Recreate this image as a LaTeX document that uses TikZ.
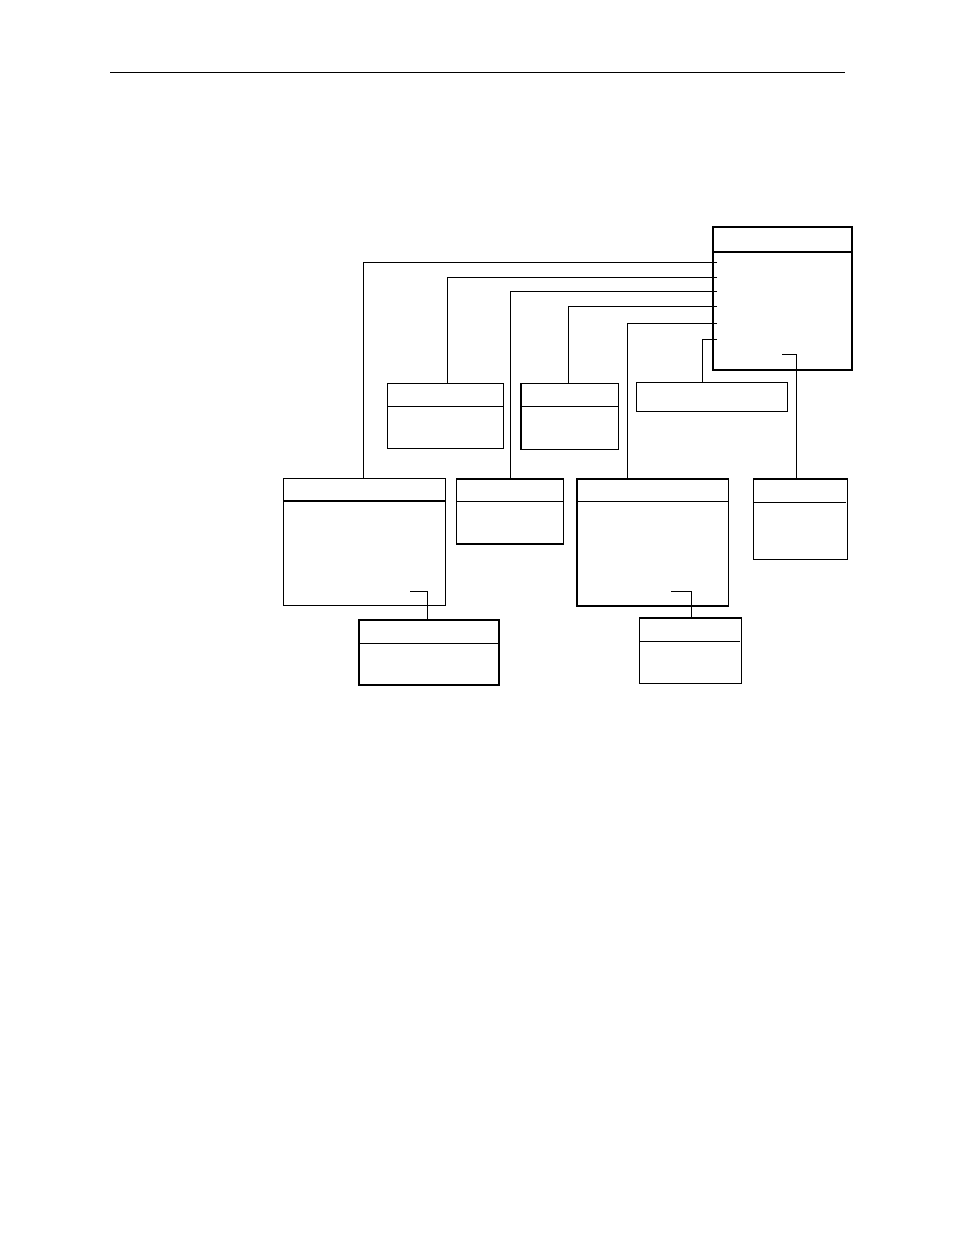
\documentclass[tikz,border=0pt]{standalone}
\begin{document}
\begin{tikzpicture}[x=1pt,y=-1pt,
  box/.style={draw,rectangle,inner sep=0pt,outer sep=0pt,anchor=north west,line width=1.5pt},
  thinbox/.style={box,line width=1.1pt},
  wire/.style={line width=0.9pt},
  divider/.style={line width=1.3pt},
  thindiv/.style={line width=1pt}]
\useasboundingbox (0,0) rectangle (954,1235);
% header rule
\coordinate (hl) at (110,72);
\coordinate (hr) at (845,72);
\draw[line width=1pt] (hl) -- (hr);

% main box
\node[box,minimum width=139pt,minimum height=143pt] (M) at (713,227) {};
\draw[divider] ([yshift=-25pt]M.north west) -- ([yshift=-25pt]M.north east);

% upper row
\node[thinbox,minimum width=116pt,minimum height=65pt] (A) at (387.5,383.5) {};
\draw[thindiv] ([yshift=-23pt]A.north west) -- ([yshift=-23pt]A.north east);
\node[box,minimum width=97.5pt,minimum height=66pt] (B) at (521,383.5) {};
\draw[thindiv] ([yshift=-23pt]B.north west) -- ([yshift=-23pt]B.north east);
\node[thinbox,minimum width=151pt,minimum height=29pt] (C) at (636.5,382.5) {};

% middle row
\node[box,minimum width=162pt,minimum height=127pt] (D) at (283.5,478.5) {};
\draw[divider] ([yshift=-22.5pt]D.north west) -- ([yshift=-22.5pt]D.north east);
\node[box,minimum width=107pt,minimum height=65pt] (F) at (456.5,479) {};
\draw[thindiv] ([yshift=-22.5pt]F.north west) -- ([yshift=-22.5pt]F.north east);
\node[box,minimum width=151.5pt,minimum height=127pt] (G) at (577,479) {};
\draw[thindiv] ([yshift=-22.5pt]G.north west) -- ([yshift=-22.5pt]G.north east);
\node[thinbox,minimum width=94pt,minimum height=80.5pt] (I) at (753.5,479) {};
\draw[thindiv] ([yshift=-23.5pt]I.north west) -- ([yshift=-23.5pt,xshift=-2pt]I.north east);

% lower row
\node[box,minimum width=140pt,minimum height=65pt] (E) at (359,620) {};
\draw[divider] ([yshift=-23.5pt]E.north west) -- ([yshift=-23.5pt]E.north east);
\node[box,minimum width=102pt,minimum height=65.5pt] (H) at (639.5,618) {};
\draw[thindiv] ([yshift=-23.5pt]H.north west) -- ([yshift=-23.5pt,xshift=-1.5pt]H.north east);

% taps on main box
\coordinate (t1) at (717,262.3);
\coordinate (t2) at (717,277.3);
\coordinate (t3) at (717,291);
\coordinate (t4) at (717,306);
\coordinate (t5) at (717,323.3);
\coordinate (t6) at (717,339);
\coordinate (x1) at (363.3,0);
\coordinate (x2) at (447.3,0);
\coordinate (x3) at (510.7,0);
\coordinate (x4) at (568.3,0);
\coordinate (x5) at (627.7,0);
\coordinate (x6) at (702.3,0);
\draw[wire] (t1) -| (x1 |- D.north);
\draw[wire] (t2) -| (x2 |- A.north);
\draw[wire] (t3) -| (x3 |- F.north);
\draw[wire] (t4) -| (x4 |- B.north);
\draw[wire] (t5) -| (x5 |- G.north);
\draw[wire] (t6) -| (x6 |- C.north);

% stubs from inside boxes
\coordinate (sM) at (782.3,354.3);
\coordinate (xM) at (796.7,0);
\draw[wire] (sM) -| (xM |- I.north);
\coordinate (sD) at (410,591.3);
\coordinate (xD) at (427.3,0);
\draw[wire] (sD) -| (xD |- E.north);
\coordinate (sG) at (671,591.3);
\coordinate (xG) at (691.3,0);
\draw[wire] (sG) -| (xG |- H.north);
\end{tikzpicture}
\end{document}
